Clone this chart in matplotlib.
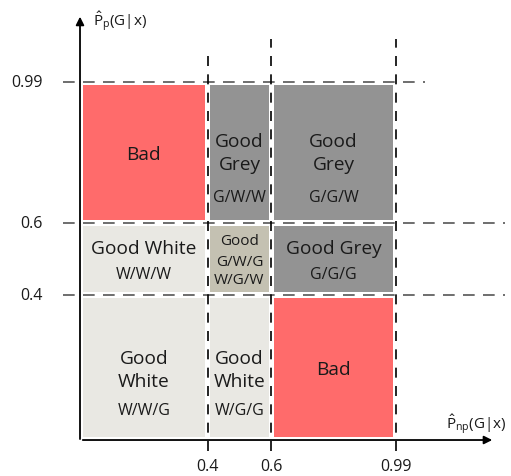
import matplotlib.pyplot as plt
from matplotlib.patches import Rectangle

plt.rcParams['font.family'] = ['Open Sans', 'DejaVu Sans']
plt.rcParams['mathtext.fontset'] = 'custom'
plt.rcParams['mathtext.rm'] = 'Open Sans'
plt.rcParams['mathtext.it'] = 'Open Sans'

# thresholds on both axes
x_edges = [0.0, 0.4, 0.6, 0.99]
y_edges = [0.0, 0.4, 0.6, 0.99]
x_ticks = ['0.4', '0.6', '0.99']
y_ticks = ['0.4', '0.6', '0.99']

# cells: (column, row, title, code, colour)
cell_col = [0, 1, 2, 0, 1, 2, 0, 1, 2]
cell_row = [2, 2, 2, 1, 1, 1, 0, 0, 0]
cell_title = ['Bad', 'Good\nGrey', 'Good\nGrey',
              'Good White', 'Good', 'Good Grey',
              'Good\nWhite', 'Good\nWhite', 'Bad']
cell_code = ['', 'G/W/W', 'G/G/W',
             'W/W/W', 'G/W/G\nW/G/W', 'G/G/G',
             'W/W/G', 'W/G/G', '']

RED = '#ff6b6b'
GREY = '#939393'
LIGHT = '#e9e8e3'
TAN = '#c4c1b2'
cell_color = [RED, GREY, GREY, LIGHT, TAN, GREY, LIGHT, LIGHT, RED]

TXT = '#1a1a1a'

fig = plt.figure(figsize=(5.11, 4.77), dpi=100)
ax = fig.add_axes([0, 0, 1, 1])
ax.set_xlim(-0.2508, 1.3511)
ax.set_ylim(-0.0994, 1.2182)
ax.axis('off')

gx = 0.008
gy = 0.008
for c, r, title, code, col in zip(cell_col, cell_row, cell_title, cell_code, cell_color):
    x0, x1 = x_edges[c], x_edges[c + 1]
    y0, y1 = y_edges[r], y_edges[r + 1]
    ax.add_patch(Rectangle((x0 + gx, y0 + gy), x1 - x0 - 2 * gx, y1 - y0 - 2 * gy,
                           facecolor=col, edgecolor='none', zorder=1))
    xc = (x0 + x1) / 2
    h = y1 - y0
    if '\n' in code:
        # small middle cell
        ax.text(xc, y0 + 0.76 * h, title, ha='center', va='center', fontsize=11, color=TXT, zorder=3)
        ax.text(xc, y0 + 0.34 * h, code, ha='center', va='center', fontsize=11,
                linespacing=1.2, color=TXT, zorder=3)
    elif code == '':
        ax.text(xc, y0 + 0.49 * h, title, ha='center', va='center', fontsize=13.8, color=TXT, zorder=3)
    elif r == 1:
        ax.text(xc, y0 + 0.65 * h, title, ha='center', va='center', fontsize=13.8, color=TXT, zorder=3)
        ax.text(xc, y0 + 0.29 * h, code, ha='center', va='center', fontsize=11.5, color=TXT, zorder=3)
    else:
        fy = 0.50 if r == 2 else 0.49
        cy = 0.18 if r == 2 else 0.21
        ax.text(xc, y0 + fy * h, title, ha='center', va='center', fontsize=13.8,
                linespacing=1.35, color=TXT, zorder=3)
        ax.text(xc, y0 + cy * h, code, ha='center', va='center', fontsize=11.5, color=TXT, zorder=3)

# dashed threshold lines
h_ends = [1.332, 1.332, 1.082]
for yv, xe in zip(y_edges[1:], h_ends):
    ax.plot([-0.053, xe], [yv, yv], color='#555555', lw=1.2, dashes=(7, 5), zorder=2)
v_tops = [1.08, 1.108, 1.108]
for xv, yt in zip(x_edges[1:], v_tops):
    ax.plot([xv, xv], [-0.03, yt], color='black', lw=1.2, dashes=(6, 5), zorder=2)

# axes arrows
ax.annotate('', xy=(1.301, 0), xytext=(0, 0),
            arrowprops=dict(arrowstyle='-|>', color='black', lw=1.3, mutation_scale=12), zorder=4)
ax.annotate('', xy=(0, 1.177), xytext=(0, -0.005),
            arrowprops=dict(arrowstyle='-|>', color='black', lw=1.3, mutation_scale=12), zorder=4)

# tick labels
for xv, lab in zip(x_edges[1:], x_ticks):
    ax.text(xv, -0.072, lab, ha='center', va='center', fontsize=11.5, color=TXT)
for yv, lab in zip(y_edges[1:], y_ticks):
    ax.text(-0.116, yv, lab, ha='right', va='center', fontsize=11.5, color=TXT)

ax.text(0.042, 1.157, r'$\hat{\mathrm{P}}_{\mathrm{p}}(\mathrm{G|x})$', ha='left', va='center',
        fontsize=11, color=TXT)
ax.text(1.148, 0.044, r'$\hat{\mathrm{P}}_{\mathrm{np}}(\mathrm{G|x})$', ha='left', va='center',
        fontsize=11, color=TXT)

fig.savefig('out.png', dpi=100)
